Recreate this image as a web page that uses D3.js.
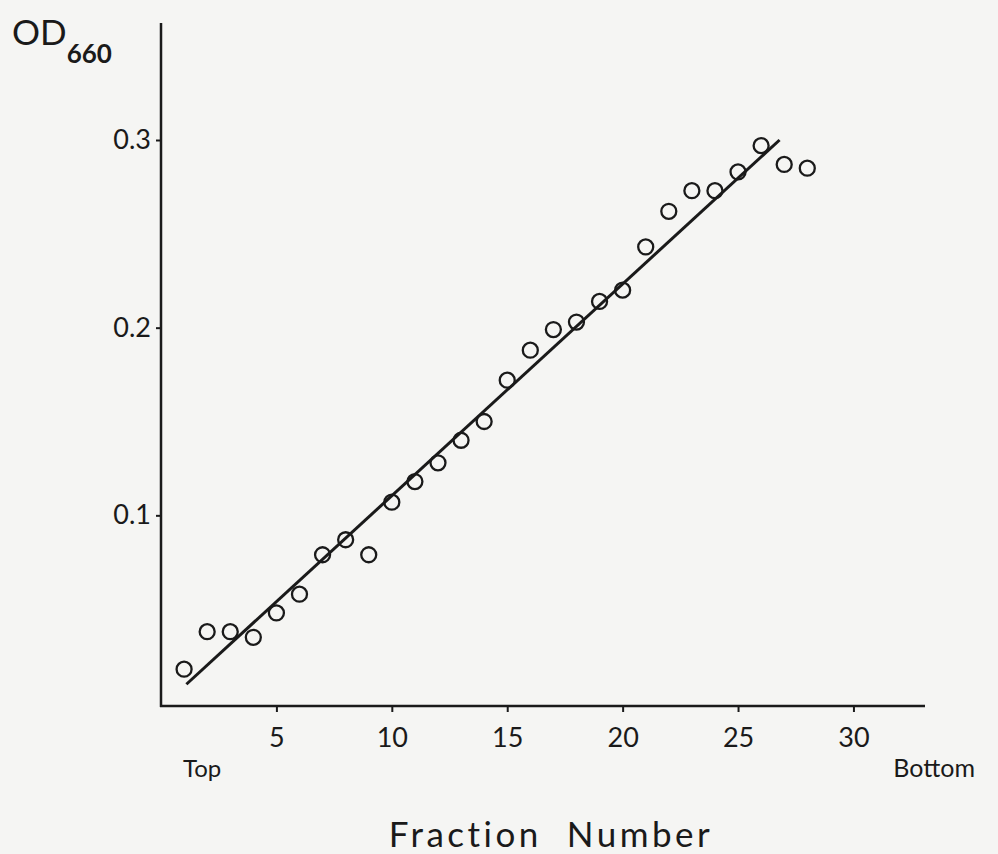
<!DOCTYPE html>
<html>
<head>
<meta charset="utf-8">
<script src="https://cdn.jsdelivr.net/npm/d3@7"></script>
<style>
    body { margin: 0; background: #f5f5f3; }
    svg { display: block; }
</style>
</head>
<body>
<div id="chart"></div>
<script>
// fraction number and OD660
const fractions = [1, 2, 3, 4, 5, 6, 7, 8, 9, 10, 11, 12, 13, 14, 15, 16, 17, 18, 19, 20, 21, 22, 23, 24, 25, 26, 27, 28];
const od660 = [0.018, 0.038, 0.038, 0.035, 0.048, 0.058, 0.079, 0.087, 0.079, 0.107, 0.118, 0.128, 0.140, 0.150, 0.172, 0.188, 0.199, 0.203, 0.214, 0.220, 0.243, 0.262, 0.273, 0.273, 0.283, 0.297, 0.287, 0.285];
// fitted line end points
const fitX = [1.1, 26.8];
const fitY = [0.010, 0.300];
const xTicks = [5, 10, 15, 20, 25, 30];
const yTicks = [0.1, 0.2, 0.3];

document.addEventListener("DOMContentLoaded", function () {
    let width = 998, height = 854;
    let font = "Lato, 'DejaVu Sans', sans-serif";
    let ink = "#1a1a1a";

    let svg = d3.select("#chart")
        .append("svg")
        .attr("width", width)
        .attr("height", height);

    let x = d3.scaleLinear().domain([0, 33.1]).range([161, 925]);
    let y = d3.scaleLinear().domain([0, 0.3]).range([703, 140]);
    let axisY = 706, axisTop = 23;

    // x axis
    let gx = svg.append("g")
        .attr("transform", `translate(0,${axisY})`)
        .call(d3.axisBottom(x).tickValues(xTicks).tickSize(6).tickPadding(16));
    gx.select(".domain").remove();
    gx.selectAll("line").attr("stroke", ink).attr("stroke-width", 2);
    gx.selectAll("text").attr("font-family", font).attr("font-size", 27).attr("fill", ink);
    svg.append("line")
        .attr("x1", x(0) - 1).attr("x2", x(33.1))
        .attr("y1", axisY).attr("y2", axisY)
        .attr("stroke", ink).attr("stroke-width", 2.5);

    // y axis
    let gy = svg.append("g")
        .attr("transform", `translate(${x(0)},0)`)
        .call(d3.axisLeft(y).tickValues(yTicks).tickFormat(d3.format(".1f")).tickSize(5).tickPadding(5));
    gy.select(".domain").remove();
    gy.selectAll("line").attr("stroke", ink).attr("stroke-width", 2);
    gy.selectAll("text").attr("font-family", font).attr("font-size", 27).attr("fill", ink);
    svg.append("line")
        .attr("x1", x(0)).attr("x2", x(0))
        .attr("y1", axisTop).attr("y2", axisY + 1)
        .attr("stroke", ink).attr("stroke-width", 2.5);

    // fitted line
    svg.append("path")
        .datum(fitX.map((d, i) => [d, fitY[i]]))
        .attr("fill", "none")
        .attr("stroke", ink)
        .attr("stroke-width", 3)
        .attr("d", d3.line().x(d => x(d[0])).y(d => y(d[1])));

    // data circles
    svg.selectAll(".pt")
        .data(fractions.map((f, i) => ({ f: f, v: od660[i] })))
        .enter()
        .append("circle")
        .attr("class", "pt")
        .attr("cx", d => x(d.f))
        .attr("cy", d => y(d.v))
        .attr("r", 7.5)
        .attr("fill", "none")
        .attr("stroke", ink)
        .attr("stroke-width", 2.3);

    // y label OD660
    let yl = svg.append("text")
        .attr("x", 12).attr("y", 45)
        .attr("font-family", font).attr("fill", ink);
    yl.append("tspan").attr("font-size", 35).text("OD");
    yl.append("tspan").attr("font-size", 26).attr("dy", 18).attr("font-weight", "bold").text("660");

    // end labels
    svg.append("text")
        .attr("x", 183).attr("y", 777)
        .attr("font-family", font).attr("font-size", 24).attr("fill", ink)
        .text("Top");
    svg.append("text")
        .attr("x", 975).attr("y", 777)
        .attr("text-anchor", "end")
        .attr("font-family", font).attr("font-size", 25).attr("fill", ink)
        .text("Bottom");

    // x title
    svg.append("text")
        .attr("x", 551).attr("y", 847)
        .attr("text-anchor", "middle")
        .attr("font-family", font).attr("font-size", 35).attr("fill", ink)
        .attr("letter-spacing", 3.5)
        .attr("xml:space", "preserve")
        .style("white-space", "pre")
        .text("Fraction  Number");
});
</script>
</body>
</html>
